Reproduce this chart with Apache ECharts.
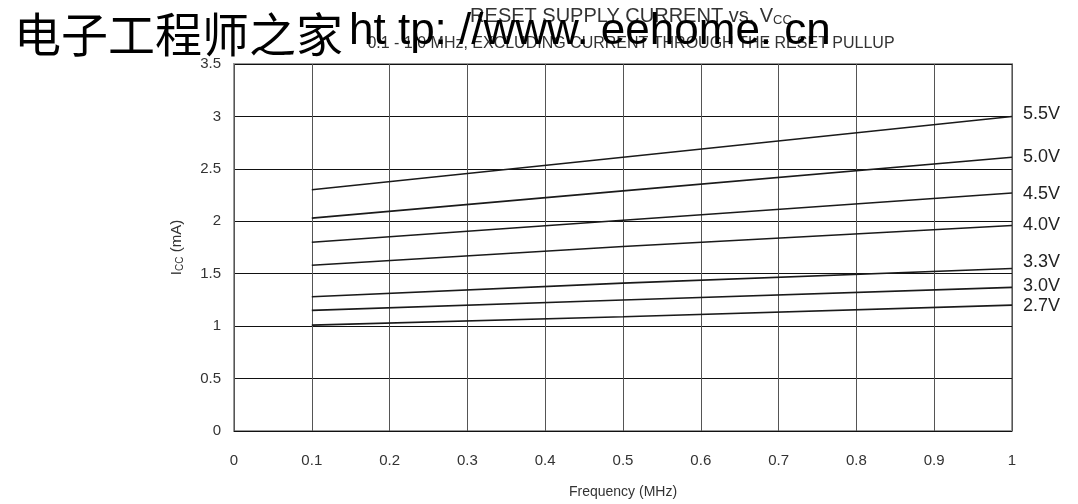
<!DOCTYPE html>
<html>
<head>
<meta charset="utf-8">
<script src="https://cdn.jsdelivr.net/npm/echarts@6/dist/echarts.min.js"></script>
<style>html,body{margin:0;padding:0;background:#fff;}#c{width:1078px;height:504px;}</style>
</head>
<body>
<div id="c"></div>
<script>
// Frequency (MHz) sample points
const freqs = [0.1, 0.5, 1.0];
// Supply current (mA) for each Vcc
const v55 = [2.30, 2.61, 3.00];
const v50 = [2.03, 2.29, 2.61];
const v45 = [1.80, 2.01, 2.27];
const v40 = [1.58, 1.76, 1.96];
const v33 = [1.28, 1.41, 1.55];
const v30 = [1.15, 1.25, 1.37];
const v27 = [1.01, 1.09, 1.20];
const seriesNames = ['5.5V', '5.0V', '4.5V', '4.0V', '3.3V', '3.0V', '2.7V'];
const seriesValues = [v55, v50, v45, v40, v33, v30, v27];
const labelOffsets = [[0, -2], [0, 0], [0, 1], [0, 0], [0, -6], [0, -1], [0, 1]];
const xTickLabels = ['0', '0.1', '0.2', '0.3', '0.4', '0.5', '0.6', '0.7', '0.8', '0.9', '1'];
const yTickLabels = ['0', '0.5', '1', '1.5', '2', '2.5', '3', '3.5'];

const FONT = 'Liberation Sans, Arial, sans-serif';
const chart = echarts.init(document.getElementById('c'));

const series = seriesNames.map((name, i) => ({
  name: name,
  type: 'line',
  data: freqs.map((f, j) => [f, seriesValues[i][j]]),
  showSymbol: false,
  symbol: 'none',
  lineStyle: { color: '#1a1a1a', width: 1.6 },
  endLabel: {
    show: true,
    formatter: name,
    distance: 11,
    offset: labelOffsets[i],
    color: '#222',
    fontSize: 18,
    fontFamily: FONT
  },
  z: 3
}));

chart.setOption({
  animation: false,
  backgroundColor: '#fff',
  grid: { left: 234, right: 66, top: 64, bottom: 70, show: true, borderColor: '#999', borderWidth: 2, backgroundColor: 'transparent' },
  xAxis: {
    type: 'value', min: 0, max: 1, interval: 0.1,
    name: 'Frequency (MHz)', nameLocation: 'middle', nameGap: 54,
    nameTextStyle: { color: '#333', fontSize: 14, fontFamily: FONT },
    axisLine: { show: false }, axisTick: { show: false },
    axisLabel: { color: '#333', fontSize: 15, fontFamily: FONT, margin: 22,
      formatter: v => xTickLabels[Math.round(v * 10)] },
    splitLine: { show: true, lineStyle: { color: '#555', width: 1 } }
  },
  yAxis: {
    type: 'value', min: 0, max: 3.5, interval: 0.5,
    name: 'I{s|CC} (mA)', nameLocation: 'middle', nameGap: 49, nameRotate: 90,
    nameTextStyle: { color: '#333', fontSize: 15, fontFamily: FONT,
      rich: { s: { fontSize: 10, fontFamily: FONT, color: '#333', padding: [7, 0, 0, 0] } } },
    axisLine: { show: false }, axisTick: { show: false },
    axisLabel: { color: '#333', fontSize: 15, fontFamily: FONT, margin: 13,
      formatter: v => yTickLabels[Math.round(v * 2)] },
    splitLine: { show: true, lineStyle: { color: '#111', width: 1 } }
  },
  graphic: [
    { type: 'text', x: 631, y: 5, z: 10,
      style: { text: 'RESET SUPPLY CURRENT vs. V{s|CC}', align: 'center', fill: '#333',
        fontSize: 20, fontFamily: FONT,
        rich: { s: { fontSize: 13, fontFamily: FONT, fill: '#333', padding: [9, 0, 0, 0] } } } },
    { type: 'text', x: 631, y: 36, z: 10,
      style: { text: '0.1 - 1.0 MHz, EXCLUDING CURRENT THROUGH THE RESET PULLUP', align: 'center', fill: '#333',
        fontSize: 16, fontFamily: FONT } },
    { type: 'text', x: 14, y: 10, z: 100,
      style: { text: '{c|电子工程师之家}{l|ht tp: //www. eehome. cn}', fill: '#000',
        rich: {
          c: { fontSize: 47, fontFamily: 'Noto Sans CJK SC', fill: '#000' },
          l: { fontSize: 44, fontFamily: FONT, fill: '#000', padding: [0, 0, 5, 6] }
        } } }
  ],
  series: series
});
</script>
</body>
</html>
